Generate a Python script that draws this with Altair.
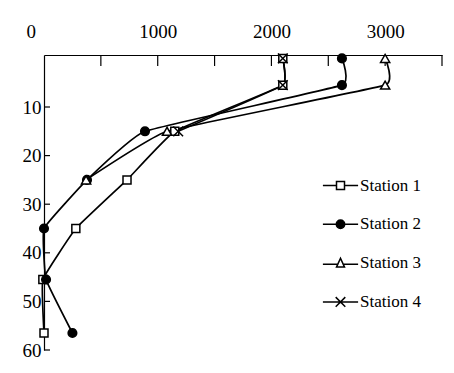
import altair as alt
import pandas as pd

stations = ["Station 1", "Station 2", "Station 3", "Station 4"]

s1_depth = [0, 5.5, 15, 25, 35, 45.5, 56.5]
s1_value = [2100, 2100, 1150, 730, 280, -10, 0]
s2_depth = [0, 5.5, 15, 25, 35, 45.5, 56.5]
s2_value = [2620, 2620, 888, 378, 0, 18, 250]
s3_depth = [0, 5.5, 15, 25]
s3_value = [3000, 3000, 1082, 370]
s4_depth = [0, 5.5, 15]
s4_value = [2100, 2100, 1180]

x_tick_labels = [0, 1000, 2000, 3000]
x_tick_marks = [500, 1000, 1500, 2000, 2500, 3000, 3500]
y_tick_labels = [10, 20, 30, 40, 50, 60]

rows = []
for name, ds, vs in zip(stations, [s1_depth, s2_depth, s3_depth, s4_depth],
                        [s1_value, s2_value, s3_value, s4_value]):
    for d, v in zip(ds, vs):
        rows.append({"station": name, "depth": d, "value": v})
df = pd.DataFrame(rows)

FONT = "Liberation Serif"
xscale = alt.Scale(domain=[0, 3500], nice=False, zero=False)
yscale = alt.Scale(domain=[-0.7, 60], reverse=True, nice=False, zero=False)

xaxis = alt.Axis(orient="top", values=x_tick_labels, ticks=False, grid=False,
                 format="d",
                 domainColor="black", domainWidth=1.2, labelFont=FONT,
                 labelFontSize=19, labelColor="black", labelPadding=14,
                 labelOffset={"expr": "datum.value == 0 ? -18 : 0"},
                 title=None)
yaxis = alt.Axis(orient="left", values=y_tick_labels, ticks=False, grid=False,
                 format="d",
                 domainColor="black", domainWidth=1.2, labelFont=FONT,
                 labelFontSize=19, labelColor="black", labelPadding=3,
                 title="Depth m", titleFont=FONT, titleFontSize=24,
                 titleFontWeight="normal", titleColor="#000050", titleX=-42)

x_enc = alt.X("value:Q", scale=xscale, axis=xaxis)
y_enc = alt.Y("depth:Q", scale=yscale, axis=yaxis)

base = alt.Chart(df)

lines = base.mark_line(interpolate="cardinal", tension=0.72, color="black", strokeWidth=1.7).encode(
    x=x_enc, y=y_enc, detail="station:N", order="depth:Q"
)

plot_shapes = ["square", "circle", "triangle-up", "M-1,-1L1,1M-1,1L1,-1"]
plot_fills = ["white", "black", "white", "white"]
plot_sizes = [64, 95, 80, 90]

points = base.mark_point(filled=True, stroke="black", strokeWidth=1.5, opacity=1).encode(
    x=x_enc, y=y_enc,
    shape=alt.Shape("station:N", scale=alt.Scale(domain=stations, range=plot_shapes), legend=None),
    fill=alt.Fill("station:N", scale=alt.Scale(domain=stations, range=plot_fills), legend=None),
    size=alt.Size("station:N", scale=alt.Scale(domain=stations, range=plot_sizes), legend=None),
)

legend_shapes = [
    "M-4.4,0H-1M1,0H4.4M-1,-1H1V1H-1Z",
    "M-4.4,0H-1.05M1.05,0H4.4M-1.05,0A1.05,1.05,0,1,1,1.05,0A1.05,1.05,0,1,1,-1.05,0Z",
    "M-4.4,0.3H-0.7M0.7,0.3H4.4M0,-1.2L1,1H-1Z",
    "M-4.4,0H4.4M-1.2,-1.2L1.2,1.2M-1.2,1.2L1.2,-1.2",
]
legend_fills = ["white", "black", "white", "white"]
legend_strokes = ["black", "black", "black", "black"]

legend_def = alt.Legend(orient="none", legendX=288, legendY=122, title=None,
                        labelFont=FONT, labelFontSize=17, labelColor="black",
                        labelOffset=11, rowPadding=20.8, symbolSize=64,
                        symbolStrokeWidth=1.5, symbolOpacity=1,
                        padding=0)

legend_layer = base.transform_filter("false").mark_point(
    filled=True, strokeWidth=1.5, opacity=1
).encode(
    x=x_enc, y=y_enc,
    shape=alt.Shape("station:N", scale=alt.Scale(domain=stations, range=legend_shapes), legend=legend_def),
    fill=alt.Fill("station:N", scale=alt.Scale(domain=stations, range=legend_fills), legend=legend_def),
    stroke=alt.Stroke("station:N", scale=alt.Scale(domain=stations, range=legend_strokes), legend=legend_def),
)

xt = alt.Chart(pd.DataFrame({"value": x_tick_marks})).mark_rule(color="black", strokeWidth=1.2).encode(
    x=x_enc, y=alt.value(0), y2=alt.value(11)
)
yt = alt.Chart(pd.DataFrame({"depth": y_tick_labels})).mark_rule(color="black", strokeWidth=1.2).encode(
    y=y_enc, x=alt.value(0), x2=alt.value(6)
)

chart = alt.layer(xt, yt, lines, points, legend_layer).resolve_scale(
    shape="independent", fill="independent", size="independent", stroke="independent"
).properties(
    width=398, height=295,
    autosize=alt.AutoSizeParams(type="none"),
    padding={"left": 36, "top": 47, "right": 4, "bottom": 15},
    background="white",
).configure_view(stroke=None)

chart.save("out.html", embed_options={"renderer": "svg", "actions": False})
